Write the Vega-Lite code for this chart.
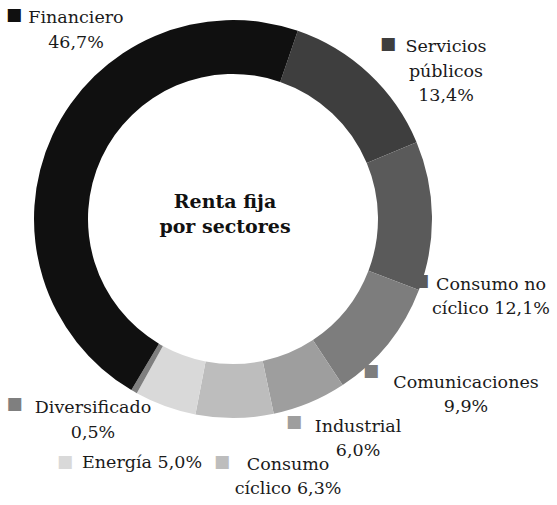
{
  "$schema": "https://vega.github.io/schema/vega-lite/v6.json",
  "width": 466,
  "height": 438,
  "autosize": "none",
  "padding": {"left": 0, "top": 0, "right": 91, "bottom": 67},
  "background": "white",
  "config": {"view": {"stroke": null}, "font": "DejaVu Serif", "text": {"font": "DejaVu Serif"}},
  "data": {"values": [
    {"order": 1, "sector": "Servicios públicos", "value": 13.4, "label": "Servicios\npúblicos\n13,4%"},
    {"order": 2, "sector": "Consumo no cíclico", "value": 12.1, "label": "Consumo no\ncíclico 12,1%"},
    {"order": 3, "sector": "Comunicaciones", "value": 9.9, "label": "Comunicaciones\n9,9%"},
    {"order": 4, "sector": "Industrial", "value": 6.0, "label": "Industrial\n6,0%"},
    {"order": 5, "sector": "Consumo cíclico", "value": 6.3, "label": "Consumo\ncíclico 6,3%"},
    {"order": 6, "sector": "Energía", "value": 5.0, "label": "Energía 5,0%"},
    {"order": 7, "sector": "Diversificado", "value": 0.5, "label": "Diversificado\n0,5%"},
    {"order": 8, "sector": "Financiero", "value": 46.7, "label": "Financiero\n46,7%"}
  ]},
  "transform": [
    {"stack": "value", "groupby": [], "sort": [{"field": "order", "order": "ascending"}], "as": ["v0", "v1"]}
  ],
  "layer": [
    {
      "mark": {"type": "arc", "innerRadius": 145, "outerRadius": 199},
      "encoding": {
        "theta": {"field": "v0", "type": "quantitative", "scale": {"domain": [0, 99.9], "range": [0.3316, 6.6148]}},
        "theta2": {"field": "v1"},
        "color": {"field": "sector", "type": "nominal", "legend": null,
          "scale": {
            "domain": ["Servicios públicos", "Consumo no cíclico", "Comunicaciones", "Industrial", "Consumo cíclico", "Energía", "Diversificado", "Financiero"],
            "range": ["#3e3e3e", "#5a5a5a", "#7d7d7d", "#9e9e9e", "#bdbdbd", "#d9d9d9", "#7f7f7f", "#101010"]
          }}
      }
    },
    {
      "transform": [{"filter": "datum.order == 1"}],
      "mark": {"type": "text", "font": "DejaVu Serif", "fontWeight": "bold", "fontSize": 19, "lineHeight": 25, "align": "center", "baseline": "alphabetic", "dx": -8, "dy": -11, "color": "#111111"},
      "encoding": {"text": {"value": ["Renta fija", "por sectores"]}}
    },
    {
      "transform": [{"filter": "datum.sector == 'Servicios públicos'"}],
      "layer": [
        {"mark": {"type": "text", "font": "DejaVu Serif", "radius": 199, "dx": 148.2, "dy": 21.2, "align": "center", "baseline": "alphabetic", "fontSize": 17.5, "lineHeight": 24.5, "lineBreak": "\n", "color": "#1a1a1a"},
         "encoding": {"theta": {"field": "v0", "type": "quantitative", "stack": null}, "text": {"field": "label"}}},
        {"mark": {"type": "text", "radius": 199, "dx": 90.2, "dy": 12.7, "text": "■", "font": "DejaVu Sans", "fontSize": 17, "align": "center", "baseline": "middle"},
         "encoding": {"theta": {"field": "v0", "type": "quantitative", "stack": null}, "color": {"field": "sector", "type": "nominal", "legend": null}}}
      ]
    },
    {
      "transform": [{"filter": "datum.sector == 'Consumo no cíclico'"}],
      "layer": [
        {"mark": {"type": "text", "font": "DejaVu Serif", "radius": 199, "dx": 74.4, "dy": 147.8, "align": "center", "baseline": "alphabetic", "fontSize": 17.5, "lineHeight": 24.5, "lineBreak": "\n", "color": "#1a1a1a"},
         "encoding": {"theta": {"field": "v0", "type": "quantitative", "stack": null}, "text": {"field": "label"}}},
        {"mark": {"type": "text", "radius": 199, "dx": 4.4, "dy": 138.8, "text": "■", "font": "DejaVu Sans", "fontSize": 17, "align": "center", "baseline": "middle"},
         "encoding": {"theta": {"field": "v0", "type": "quantitative", "stack": null}, "color": {"field": "sector", "type": "nominal", "legend": null}}}
      ]
    },
    {
      "transform": [{"filter": "datum.sector == 'Comunicaciones'"}],
      "layer": [
        {"mark": {"type": "text", "font": "DejaVu Serif", "radius": 199, "dx": 47.1, "dy": 98, "align": "center", "baseline": "alphabetic", "fontSize": 17.5, "lineHeight": 24.5, "lineBreak": "\n", "color": "#1a1a1a"},
         "encoding": {"theta": {"field": "v0", "type": "quantitative", "stack": null}, "text": {"field": "label"}}},
        {"mark": {"type": "text", "radius": 199, "dx": -47.9, "dy": 81.5, "text": "■", "font": "DejaVu Sans", "fontSize": 17, "align": "center", "baseline": "middle"},
         "encoding": {"theta": {"field": "v0", "type": "quantitative", "stack": null}, "color": {"field": "sector", "type": "nominal", "legend": null}}}
      ]
    },
    {
      "transform": [{"filter": "datum.sector == 'Industrial'"}],
      "layer": [
        {"mark": {"type": "text", "font": "DejaVu Serif", "radius": 199, "dx": 15.4, "dy": 46.9, "align": "center", "baseline": "alphabetic", "fontSize": 17.5, "lineHeight": 24.5, "lineBreak": "\n", "color": "#1a1a1a"},
         "encoding": {"theta": {"field": "v0", "type": "quantitative", "stack": null}, "text": {"field": "label"}}},
        {"mark": {"type": "text", "radius": 199, "dx": -48.6, "dy": 37.4, "text": "■", "font": "DejaVu Sans", "fontSize": 17, "align": "center", "baseline": "middle"},
         "encoding": {"theta": {"field": "v0", "type": "quantitative", "stack": null}, "color": {"field": "sector", "type": "nominal", "legend": null}}}
      ]
    },
    {
      "transform": [{"filter": "datum.sector == 'Consumo cíclico'"}],
      "layer": [
        {"mark": {"type": "text", "font": "DejaVu Serif", "radius": 199, "dx": 14.3, "dy": 56.2, "align": "center", "baseline": "alphabetic", "fontSize": 17.5, "lineHeight": 24.5, "lineBreak": "\n", "color": "#1a1a1a"},
         "encoding": {"theta": {"field": "v0", "type": "quantitative", "stack": null}, "text": {"field": "label"}}},
        {"mark": {"type": "text", "radius": 199, "dx": -51.7, "dy": 48.2, "text": "■", "font": "DejaVu Sans", "fontSize": 17, "align": "center", "baseline": "middle"},
         "encoding": {"theta": {"field": "v0", "type": "quantitative", "stack": null}, "color": {"field": "sector", "type": "nominal", "legend": null}}}
      ]
    },
    {
      "transform": [{"filter": "datum.sector == 'Energía'"}],
      "layer": [
        {"mark": {"type": "text", "font": "DejaVu Serif", "radius": 199, "dx": -53.4, "dy": 53.6, "align": "center", "baseline": "alphabetic", "fontSize": 17.5, "lineHeight": 24.5, "lineBreak": "\n", "color": "#1a1a1a"},
         "encoding": {"theta": {"field": "v0", "type": "quantitative", "stack": null}, "text": {"field": "label"}}},
        {"mark": {"type": "text", "radius": 199, "dx": -130.4, "dy": 47.6, "text": "■", "font": "DejaVu Sans", "fontSize": 17, "align": "center", "baseline": "middle"},
         "encoding": {"theta": {"field": "v0", "type": "quantitative", "stack": null}, "color": {"field": "sector", "type": "nominal", "legend": null}}}
      ]
    },
    {
      "transform": [{"filter": "datum.sector == 'Diversificado'"}],
      "layer": [
        {"mark": {"type": "text", "font": "DejaVu Serif", "radius": 199, "dx": -43.8, "dy": 19.8, "align": "center", "baseline": "alphabetic", "fontSize": 17.5, "lineHeight": 24.5, "lineBreak": "\n", "color": "#1a1a1a"},
         "encoding": {"theta": {"field": "v0", "type": "quantitative", "stack": null}, "text": {"field": "label"}}},
        {"mark": {"type": "text", "radius": 199, "dx": -122.3, "dy": 10.8, "text": "■", "font": "DejaVu Sans", "fontSize": 17, "align": "center", "baseline": "middle"},
         "encoding": {"theta": {"field": "v0", "type": "quantitative", "stack": null}, "color": {"field": "sector", "type": "nominal", "legend": null}}}
      ]
    },
    {
      "transform": [{"filter": "datum.sector == 'Financiero'"}],
      "layer": [
        {"mark": {"type": "text", "font": "DejaVu Serif", "radius": 199, "dx": -55.4, "dy": -366.6, "align": "center", "baseline": "alphabetic", "fontSize": 17.5, "lineHeight": 24.5, "lineBreak": "\n", "color": "#1a1a1a"},
         "encoding": {"theta": {"field": "v0", "type": "quantitative", "stack": null}, "text": {"field": "label"}}},
        {"mark": {"type": "text", "radius": 199, "dx": -117.4, "dy": -374.6, "text": "■", "font": "DejaVu Sans", "fontSize": 17, "align": "center", "baseline": "middle"},
         "encoding": {"theta": {"field": "v0", "type": "quantitative", "stack": null}, "color": {"field": "sector", "type": "nominal", "legend": null}}}
      ]
    }
  ]
}
